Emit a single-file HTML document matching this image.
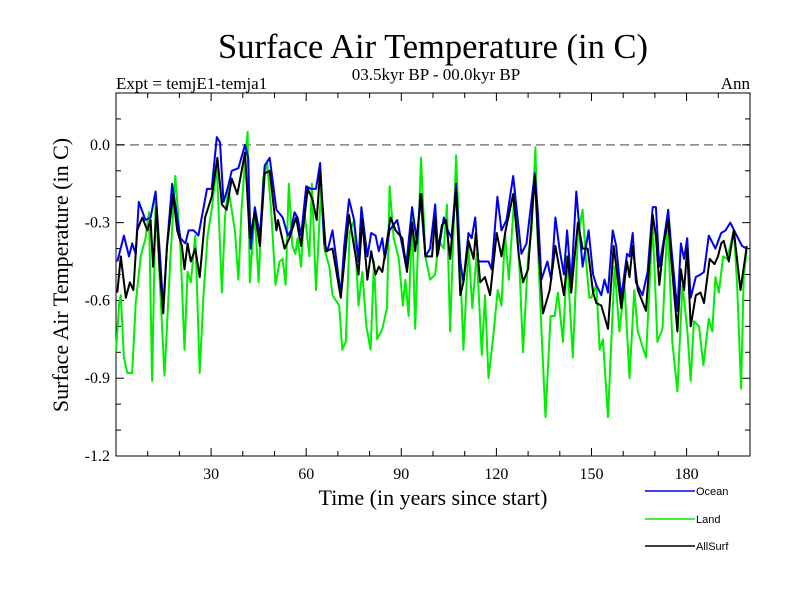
<!DOCTYPE html>
<html><head><meta charset="utf-8"><style>
html,body{margin:0;padding:0;background:#fff;}
svg{display:block;font-family:"Liberation Serif",serif;}
</style></head><body>
<svg id="chart" width="800" height="600" viewBox="0 0 800 600" xmlns="http://www.w3.org/2000/svg">
<text x="433" y="58" font-size="34.5" text-anchor="middle">Surface Air Temperature (in C)</text>
<text x="436" y="80" font-size="17" text-anchor="middle">03.5kyr BP - 00.0kyr BP</text>
<text x="116" y="89" font-size="17">Expt = temjE1-temja1</text>
<text x="750" y="89" font-size="17" text-anchor="end">Ann</text>
<text x="433" y="505" font-size="22" text-anchor="middle">Time (in years since start)</text>
<text transform="translate(68,275) rotate(-90)" font-size="22" text-anchor="middle">Surface Air Temperature (in C)</text>
<g id="axes"></g>
<g id="series"></g>
<g id="legend"></g>
</svg>
<script>
const xTicks=[30,60,90,120,150,180];
const yTicks=[0.0,-0.3,-0.6,-0.9,-1.2];
const yTickLabels=["0.0","-0.3","-0.6","-0.9","-1.2"];
const oceanYears=[0.4,2.5,4.1,5.1,6.2,7.2,9.3,10.9,12.5,14,14.9,16.1,17.7,20.3,21.9,22.9,24.5,26,28.7,30.2,31.8,32.8,33.9,35.4,36.5,38.6,40.7,41.7,42.5,43.8,45.4,46.9,48.5,50.6,52.6,54.2,55.2,56.3,57.3,58.4,60,61.5,63.1,64.4,65.7,66.7,68.3,69.9,70.9,72,73.5,75.1,76.5,77.4,79.3,80.5,81.9,82.9,84,84.8,86.3,88.7,90.3,91.5,93.4,95,96,97.6,99.1,100.7,101.6,103.4,104.7,105.8,107.3,108.6,109.6,111.2,112.2,113.3,114.3,115.9,117.5,118.5,120.3,121.6,123.2,125.3,126.3,127.9,129.5,132.1,133.1,134.2,136.1,137.3,138.6,139.9,141.3,142.3,143.6,145.2,147.2,149.1,150.5,151.5,153.1,154.1,155.2,156.7,157.8,159.4,161.2,162,163,164,166.1,167.7,169.3,170.3,171.4,172.9,174.2,175.2,177.1,178.2,179.2,180.2,181.3,182.9,184.4,185.5,187,189.1,190.9,192.3,193.8,195.4,197.5,199];
const oceanVals=[-0.45,-0.35,-0.43,-0.38,-0.42,-0.22,-0.29,-0.28,-0.18,-0.45,-0.63,-0.39,-0.15,-0.36,-0.38,-0.33,-0.33,-0.35,-0.17,-0.17,0.03,0.01,-0.22,-0.16,-0.10,-0.09,0.00,-0.05,-0.40,-0.24,-0.35,-0.08,-0.05,-0.25,-0.28,-0.35,-0.33,-0.26,-0.28,-0.35,-0.16,-0.17,-0.17,-0.07,-0.38,-0.41,-0.33,-0.48,-0.58,-0.39,-0.21,-0.29,-0.45,-0.24,-0.43,-0.34,-0.35,-0.41,-0.36,-0.44,-0.33,-0.29,-0.39,-0.47,-0.24,-0.38,-0.19,-0.43,-0.40,-0.23,-0.42,-0.28,-0.33,-0.36,-0.15,-0.45,-0.53,-0.34,-0.36,-0.28,-0.45,-0.45,-0.45,-0.48,-0.20,-0.33,-0.29,-0.12,-0.24,-0.42,-0.38,-0.11,-0.26,-0.52,-0.45,-0.52,-0.28,-0.40,-0.50,-0.33,-0.53,-0.18,-0.47,-0.33,-0.50,-0.54,-0.58,-0.52,-0.57,-0.33,-0.39,-0.59,-0.42,-0.43,-0.34,-0.53,-0.58,-0.49,-0.24,-0.24,-0.47,-0.36,-0.25,-0.40,-0.64,-0.38,-0.44,-0.36,-0.59,-0.51,-0.50,-0.49,-0.35,-0.40,-0.34,-0.33,-0.30,-0.34,-0.39,-0.40];
const landYears=[0,1,1.5,2.5,3.6,5.1,6.2,7.8,9.3,10.4,11.4,12.5,13.5,15.3,17.2,18.7,20.3,21.6,22.6,23.6,25,26.4,27.6,28.9,30.2,31.8,33.4,34.4,35.4,36.5,37.5,38.6,39.6,40.7,41.5,42.2,43.8,45,46.4,47.7,49,50.3,51.6,52.6,53.5,54.5,55.6,56.6,57.3,58.4,59.4,61,61.8,63.1,64.7,65.7,67.3,68.3,70.4,71.4,72.5,73.7,75.1,76.5,77.7,79,80.3,81.4,82.4,84,85.5,86.3,87.6,89.2,90.5,91.3,92.3,93.4,94.4,96.2,97.6,99.1,100.7,101.8,103.4,104.4,105.4,107.3,109.6,111.2,112.4,113.8,115.4,116.4,117.5,119,120.4,121.6,122.7,123.9,125.8,127.4,128.4,130,131.1,132.3,133.1,134.2,135.5,137.1,138.4,139.4,141,142.3,144.1,145.7,147.2,148.3,149.3,149.9,151.5,152.6,153.6,155.2,157.3,158.8,160.4,162,163.5,164.6,167.2,169.3,170.8,172.4,174,175.5,177.1,178.7,180.2,181.3,182.3,183.9,185.3,187,188.1,189.1,190.2,191.5,192.8,194.9,195.9,197.2,198,199];
const landVals=[-0.80,-0.61,-0.58,-0.82,-0.88,-0.88,-0.61,-0.43,-0.36,-0.26,-0.91,-0.22,-0.45,-0.89,-0.43,-0.12,-0.39,-0.79,-0.49,-0.53,-0.35,-0.88,-0.58,-0.35,-0.25,-0.08,-0.57,-0.28,-0.17,-0.25,-0.33,-0.52,-0.25,-0.06,0.05,-0.53,-0.26,-0.53,-0.13,-0.07,-0.26,-0.54,-0.45,-0.44,-0.54,-0.15,-0.39,-0.42,-0.36,-0.47,-0.25,-0.43,-0.15,-0.56,-0.17,-0.40,-0.47,-0.58,-0.62,-0.79,-0.76,-0.34,-0.29,-0.62,-0.49,-0.70,-0.79,-0.45,-0.75,-0.71,-0.63,-0.16,-0.36,-0.44,-0.62,-0.52,-0.66,-0.28,-0.71,-0.05,-0.43,-0.52,-0.50,-0.37,-0.40,-0.23,-0.72,-0.04,-0.79,-0.39,-0.63,-0.42,-0.81,-0.58,-0.90,-0.74,-0.56,-0.62,-0.34,-0.52,-0.17,-0.51,-0.80,-0.43,-0.33,-0.01,-0.39,-0.71,-1.05,-0.66,-0.66,-0.57,-0.76,-0.43,-0.82,-0.35,-0.25,-0.45,-0.59,-0.59,-0.54,-0.79,-0.75,-1.05,-0.47,-0.72,-0.54,-0.90,-0.56,-0.72,-0.82,-0.30,-0.76,-0.71,-0.28,-0.76,-0.95,-0.54,-0.71,-0.91,-0.68,-0.70,-0.85,-0.67,-0.72,-0.51,-0.57,-0.43,-0.44,-0.33,-0.53,-0.94,-0.51,-0.40];
const allYears=[0.4,1.5,3.1,4.4,5.5,6.7,8.3,9.9,10.9,11.7,12.8,13.8,14.9,16.1,18,19.3,20.8,21.6,22.6,23.6,25,26.4,28.1,30.2,32,33.4,34.9,36.5,38.3,40.7,42.2,43.8,45.4,46.9,48.5,50.6,51.1,53.2,54.7,56.8,58.4,60.5,62,63.3,64.4,66.2,68.3,70.9,73.5,76.5,77.7,79.3,80.5,81.9,82.9,84,86.6,88.2,90.3,91.8,93.4,94.4,96.3,97.6,99.7,100.7,101.3,102.8,104.1,105.4,107.3,108.6,109.6,111.2,112.8,113.5,114.9,116.4,118,120.1,121.6,122.9,125.3,127.1,128.4,130,132.1,133.1,134.7,136.8,138.6,139.9,141.3,142.5,143.6,145.7,147.2,148.8,150.5,151.5,153.1,155.2,157,159.4,161.2,162,163,164.6,167.2,169.3,170.3,171.4,172.9,174.2,175.5,177.1,178.2,179.2,180.2,181.3,182.9,184.4,185.5,187.3,188.8,189.9,190.9,191.7,193.3,194.9,197,199];
const allVals=[-0.57,-0.43,-0.59,-0.53,-0.56,-0.33,-0.28,-0.33,-0.29,-0.47,-0.24,-0.48,-0.65,-0.39,-0.19,-0.33,-0.39,-0.48,-0.38,-0.45,-0.40,-0.51,-0.28,-0.20,-0.05,-0.23,-0.25,-0.13,-0.19,-0.03,-0.36,-0.26,-0.39,-0.11,-0.10,-0.33,-0.29,-0.40,-0.36,-0.28,-0.39,-0.17,-0.21,-0.29,-0.10,-0.41,-0.40,-0.59,-0.27,-0.50,-0.29,-0.52,-0.41,-0.50,-0.47,-0.49,-0.28,-0.33,-0.36,-0.49,-0.30,-0.41,-0.19,-0.43,-0.43,-0.28,-0.43,-0.31,-0.29,-0.44,-0.17,-0.58,-0.53,-0.37,-0.44,-0.34,-0.53,-0.51,-0.58,-0.34,-0.43,-0.33,-0.19,-0.43,-0.53,-0.48,-0.12,-0.36,-0.65,-0.56,-0.39,-0.48,-0.58,-0.43,-0.57,-0.30,-0.40,-0.40,-0.57,-0.61,-0.62,-0.71,-0.39,-0.63,-0.45,-0.51,-0.39,-0.56,-0.64,-0.27,-0.35,-0.54,-0.37,-0.29,-0.49,-0.72,-0.48,-0.56,-0.40,-0.70,-0.58,-0.57,-0.61,-0.44,-0.46,-0.43,-0.38,-0.37,-0.45,-0.33,-0.56,-0.39];

const L=116,R=750,T=93,B=456,X0=0,X1=200,Y0=-1.2,Y1=0.2;
const xs=v=>L+(v-X0)/(X1-X0)*(R-L);
const ys=v=>B-(v-Y0)/(Y1-Y0)*(B-T);
const NS='http://www.w3.org/2000/svg';
function mk(tag,parent,attrs){const e=document.createElementNS(NS,tag);for(const k in attrs)e.setAttribute(k,attrs[k]);parent.appendChild(e);return e;}
const axes=document.getElementById('axes');
const frame=mk('rect',axes,{x:L,y:T,width:R-L,height:B-T,fill:'none',stroke:'#000','stroke-width':1});


const zl=mk('line',axes,{x1:L,x2:R,y1:ys(0),y2:ys(0),stroke:'#808080','stroke-width':1.5,'stroke-dasharray':'9,5'});


for(let t=10;t<200;t+=10){
  const major=xTicks.includes(t);const len=major?8:5;
  const a=mk('line',axes,{x1:xs(t),x2:xs(t),y1:B,y2:B-len,stroke:'#000'});
  
  
  const b=mk('line',axes,{x1:xs(t),x2:xs(t),y1:T,y2:T+len,stroke:'#000'});
  
  
}
xTicks.forEach(t=>{
  const tx=mk('text',axes,{x:xs(t),y:B+23,'font-size':16,'text-anchor':'middle'});tx.textContent=String(t);
  
  
});
for(let i=1;i<14;i++){
  const v=Y0+i*0.1;const major=(i%3===0);const len=major?8:5;
  const a=mk('line',axes,{x1:L,x2:L+len,y1:ys(v),y2:ys(v),stroke:'#000'});
  
  
  const b=mk('line',axes,{x1:R,x2:R-len,y1:ys(v),y2:ys(v),stroke:'#000'});
  
  
}
yTicks.forEach((v,i)=>{
  const tx=mk('text',axes,{x:L-6,y:ys(v)+5,'font-size':16,'text-anchor':'end'});tx.textContent=yTickLabels[i];
  
  
});
const ser=document.getElementById('series');
function drawLine(yrs,vals,color,name){
  const d=yrs.map((y,i)=>(i?'L':'M')+xs(y).toFixed(1)+','+ys(vals[i]).toFixed(1)).join('');
  const p=mk('path',ser,{d:d,fill:'none',stroke:color,'stroke-width':2,'stroke-linejoin':'round'});
  
  
}
drawLine(landYears,landVals,'#00ee00','land-series-line');
drawLine(oceanYears,oceanVals,'#0000ee','ocean-series-line');
drawLine(allYears,allVals,'#000000','allsurf-series-line');
const leg=document.getElementById('legend');
[['Ocean','#0000ee',491],['Land','#00ee00',519],['AllSurf','#000',546]].forEach(([n,c,y])=>{
  const l=mk('line',leg,{x1:645,x2:695,y1:y,y2:y,stroke:c,'stroke-width':1.5});
  
  
  const t=mk('text',leg,{x:696,y:y+4,'font-size':11,'font-family':'Liberation Sans, sans-serif'});t.textContent=n;
  
  
});
</script>
</body></html>
